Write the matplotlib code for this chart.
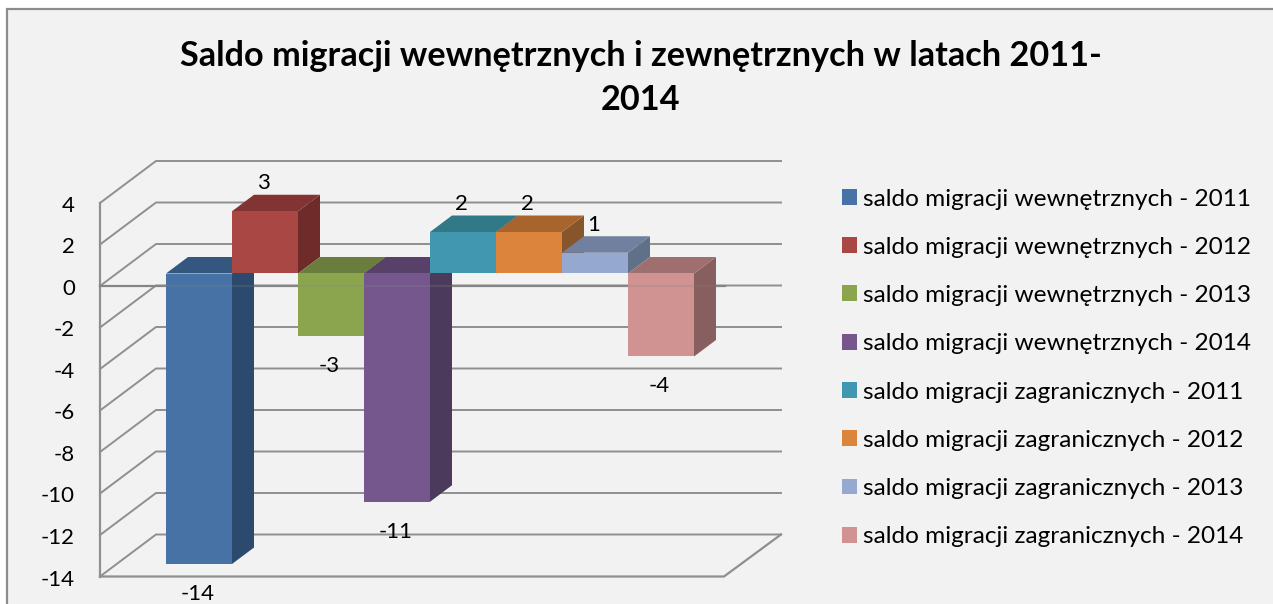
import matplotlib
matplotlib.use('Agg')
import matplotlib.pyplot as plt
from matplotlib.patches import Polygon, Patch, Rectangle

plt.rcParams['font.family'] = ['Lato', 'DejaVu Sans']

# Data
title = 'Saldo migracji wewnętrznych i zewnętrznych w latach 2011-\n2014'
series = ['saldo migracji wewnętrznych - 2011', 'saldo migracji wewnętrznych - 2012',
          'saldo migracji wewnętrznych - 2013', 'saldo migracji wewnętrznych - 2014',
          'saldo migracji zagranicznych - 2011', 'saldo migracji zagranicznych - 2012',
          'saldo migracji zagranicznych - 2013', 'saldo migracji zagranicznych - 2014']
values = [-14, 3, -3, -11, 2, 2, 1, -4]
ticks = [4, 2, 0, -2, -4, -6, -8, -10, -12, -14]

front_colors = ['#4672a6', '#a94744', '#8ba54e', '#75578e', '#4297b0', '#dc843c', '#95a9d0', '#d19392']
top_colors = ['#345780', '#823432', '#6b7d3c', '#584168', '#327987', '#a7652d', '#70809e', '#9f6f6f']
side_colors = ['#2c4a6e', '#6e2b29', '#5b6b33', '#4b3a5c', '#2b6574', '#86552a', '#5f7089', '#875f5e']

# Pixel scale of the axes: one bar is 66 px wide, one unit is 20.75 px tall
W, H = 1273, 604
BAR_PX, UNIT_PX = 66.0, 20.75
X0, Y0 = 166.0, 273.5  # where bar 0 meets value 0


def dx(px):
    return px / BAR_PX


def dy(px):
    return px / UNIT_PX


fig = plt.figure(figsize=(W / 100, H / 100), dpi=100, facecolor='white')
ax = fig.add_axes([0, 0, 1, 1])
ax.set_xlim(-X0 / BAR_PX, (W - X0) / BAR_PX)
ax.set_ylim((Y0 - H) / UNIT_PX, Y0 / UNIT_PX)
ax.axis('off')

# Chart background and border
ax.add_patch(Rectangle((0.0055, -0.1), 1.1, 1.085, transform=ax.transAxes,
                       facecolor='#f2f2f2', edgecolor='#8c8c8c', linewidth=1.6, zorder=0))

# Walls: front plane sits 12.5 px below the bars, back plane 29.5 px above them
wall_l, wall_b, wall_r = dx(100 - X0), dx(156 - X0), dx(781 - X0)
front_off, back_off = -dy(12.5), dy(29.5)
grid = '#8f8f8f'
for t in ticks:
    yf, yb = t + front_off, t + back_off
    ax.plot([wall_l, wall_b, wall_r], [yf, yb, yb], color=grid, lw=1.4, zorder=1,
            solid_joinstyle='miter')
ax.plot([wall_l, wall_l], [ticks[0] + front_off, ticks[-1] + front_off], color=grid, lw=1.6, zorder=1)
floor = ticks[-1] + front_off
ax.plot([wall_l, dx(724 - X0), wall_r], [floor, floor, floor - front_off + back_off],
        color=grid, lw=1.6, zorder=1)

# Zero line in front of the wall
zero_r = dx(725 - X0)
ax.plot([wall_l, zero_r], [front_off, front_off], color='#858585', lw=1.6, zorder=2)

# Bars, left to right
depth_x, depth_y = dx(22), dy(16.5)
for i, v in enumerate(values):
    lo, hi = min(v, 0), max(v, 0)
    z = 3 + i * 0.1
    ax.add_patch(Polygon([(i + 1, lo), (i + 1 + depth_x, lo + depth_y),
                          (i + 1 + depth_x, hi + depth_y), (i + 1, hi)],
                         facecolor=side_colors[i], edgecolor='none', zorder=z))
    ax.add_patch(Polygon([(i, hi), (i + depth_x, hi + depth_y),
                          (i + 1 + depth_x, hi + depth_y), (i + 1, hi)],
                         facecolor=top_colors[i], edgecolor='none', zorder=z))
    ax.add_patch(Rectangle((i, lo), 1, hi - lo, facecolor=front_colors[i], edgecolor='none', zorder=z))
    # data label
    off = dy(28) if v > 0 else -dy(30)
    ax.text(i + 0.5 - dx(1.5), v + off, str(v), ha='center', va='center', fontsize=16,
            color='black', zorder=6)

# Faint trace of the zero line over the bars
ax.plot([wall_l, zero_r], [front_off, front_off], color='#858585', lw=1.3, alpha=0.25, zorder=5)

# Value axis labels
for t in ticks:
    ax.text(dx(75 - X0), t + front_off - dy(3), str(t), ha='right', va='center', fontsize=16,
            color='black')

ax.text(641 / W, 1 - 78 / H, title, transform=ax.transAxes, ha='center', va='center',
        fontsize=24.7, fontweight='bold', color='black', linespacing=1.48)

handles = [Patch(facecolor=c, edgecolor='none') for c in front_colors]
ax.legend(handles, series, loc='upper left', bbox_to_anchor=(842 / W, 1 - 188.5 / H), frameon=False,
          fontsize=17.6, handlelength=0.62, handleheight=0.62, handletextpad=0.25,
          labelspacing=1.115, borderpad=0, borderaxespad=0)

fig.savefig('out.png', dpi=100)
